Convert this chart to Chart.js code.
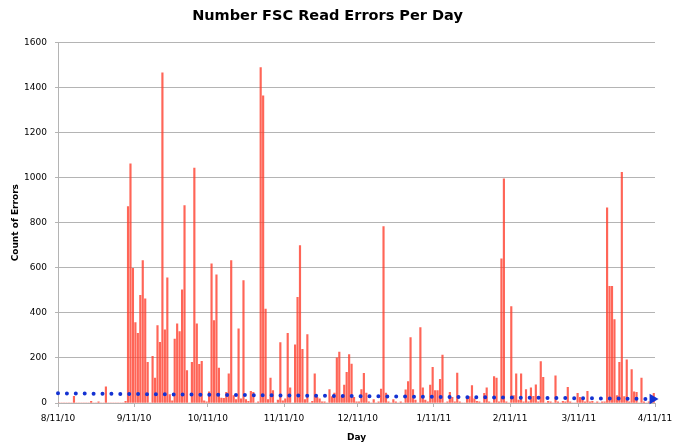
<!DOCTYPE html>
<html>
<head>
<meta charset="utf-8">
<script src="https://cdn.jsdelivr.net/npm/chart.js@4/dist/chart.umd.min.js"></script>
<style>
  html, body { margin: 0; padding: 0; background: #fff; }
  #wrap { width: 680px; height: 444px; position: relative; }
</style>
</head>
<body>
<div id="wrap"><canvas id="errorsChart"></canvas></div>
<script>
// daily error counts, day 0 = 8/11/10
const errorCounts = [
  0, 0, 0, 0, 0, 0, 30, 0, 0, 0,
  0, 0, 0, 7, 0, 0, 5, 0, 0, 72,
  0, 0, 0, 0, 0, 0, 0, 7, 872, 1061,
  597, 357, 309, 478, 632, 462, 181, 0, 207, 111,
  343, 269, 1465, 325, 555, 37, 10, 284, 351, 317,
  502, 876, 144, 0, 181, 1042, 351, 172, 185, 10,
  5, 50, 617, 366, 569, 155, 22, 21, 47, 129,
  632, 33, 15, 329, 18, 543, 15, 7, 52, 47,
  0, 5, 1488, 1363, 417, 15, 111, 55, 0, 13,
  268, 10, 18, 309, 67, 0, 258, 469, 699, 238,
  15, 304, 0, 7, 129, 25, 18, 5, 5, 0,
  59, 28, 44, 200, 226, 28, 80, 136, 215, 173,
  25, 5, 5, 59, 132, 44, 5, 0, 15, 0,
  5, 62, 783, 44, 5, 0, 15, 5, 0, 5,
  0, 58, 95, 290, 59, 13, 0, 335, 67, 13,
  5, 80, 158, 55, 55, 105, 213, 0, 5, 47,
  25, 5, 133, 5, 0, 0, 18, 28, 77, 18,
  7, 5, 0, 43, 67, 5, 0, 117, 111, 5,
  640, 995, 5, 0, 428, 33, 129, 13, 129, 5,
  59, 5, 67, 30, 81, 5, 184, 114, 0, 7,
  5, 0, 121, 5, 0, 7, 5, 70, 5, 0,
  0, 43, 25, 20, 5, 52, 5, 7, 0, 5,
  0, 5, 5, 866, 518, 518, 370, 33, 181, 1023,
  28, 191, 5, 148, 50, 47, 0, 111, 5, 0,
  5, 5, 43
];

// x axis ticks (days since 8/11/10)
const tickDays = [0, 31, 61, 92, 122, 153, 184, 212, 243];
const tickLabels = ["8/11/10", "9/11/10", "10/11/10", "11/11/10", "12/11/10", "1/11/11", "2/11/11", "3/11/11", "4/11/11"];

// linear trend line end points
const trendDays = [0, 242];
const trendValues = [43, 18];

const fontFamily = "'Lucida Grande', 'DejaVu Sans', sans-serif";
const textColor = "#000";
const gridColor = "#b4b4b4";

const barData = errorCounts.map((count, index) => ({ x: index + 0.5, y: count }));
const trendData = trendDays.map((day, index) => ({ x: day, y: trendValues[index] }));

new Chart(document.getElementById("errorsChart"), {
  data: {
    datasets: [
      {
        type: "line",
        label: "Trend",
        data: trendData,
        borderColor: "#1432d2",
        borderWidth: 4,
        borderDash: [0, 8.9],
        borderCapStyle: "round",
        pointRadius: [0, 6],
        pointStyle: "triangle",
        pointRotation: 90,
        pointBackgroundColor: "#1432d2",
        pointBorderWidth: 0,
        clip: false,
        order: 0
      },
      {
        type: "bar",
        label: "Errors",
        data: barData,
        backgroundColor: "rgba(255, 62, 45, 0.8)",
        barThickness: 1.5,
        order: 1
      }
    ]
  },
  options: {
    responsive: true,
    maintainAspectRatio: false,
    animation: false,
    layout: { padding: { left: 0, right: 25, top: 0, bottom: 0 } },
    plugins: {
      legend: { display: false },
      tooltip: { enabled: false },
      title: {
        display: true,
        text: "Number FSC Read Errors Per Day",
        color: textColor,
        font: { family: fontFamily, size: 14.5, weight: "bold" },
        padding: { top: 8, bottom: 17 }
      }
    },
    scales: {
      x: {
        type: "linear",
        min: 0,
        max: 243,
        offset: false,
        afterBuildTicks: (scale) => {
          scale.ticks = tickDays.map((day) => ({ value: day }));
        },
        afterFit: (scale) => {
          scale.height = 41;
        },
        ticks: {
          autoSkip: false,
          maxRotation: 0,
          color: textColor,
          padding: 6,
          font: { family: fontFamily, size: 9 },
          callback: (value) => tickLabels[tickDays.indexOf(value)]
        },
        grid: {
          offset: false,
          drawOnChartArea: false,
          drawTicks: true,
          tickLength: 4,
          color: gridColor
        },
        border: { color: gridColor },
        title: {
          display: true,
          text: "Day",
          color: textColor,
          font: { family: fontFamily, size: 9, weight: "bold" },
          padding: { top: 0, bottom: 1 }
        }
      },
      y: {
        min: 0,
        max: 1600,
        afterFit: (scale) => {
          scale.width = 58;
        },
        ticks: {
          stepSize: 200,
          color: textColor,
          padding: 8,
          font: { family: fontFamily, size: 9 },
          callback: (value) => String(value)
        },
        grid: {
          color: gridColor,
          tickLength: 3
        },
        border: { color: gridColor },
        title: {
          display: true,
          text: "Count of Errors",
          color: textColor,
          font: { family: fontFamily, size: 9, weight: "bold" },
          padding: { top: 10, bottom: 0 }
        }
      }
    }
  }
});
</script>
</body>
</html>
